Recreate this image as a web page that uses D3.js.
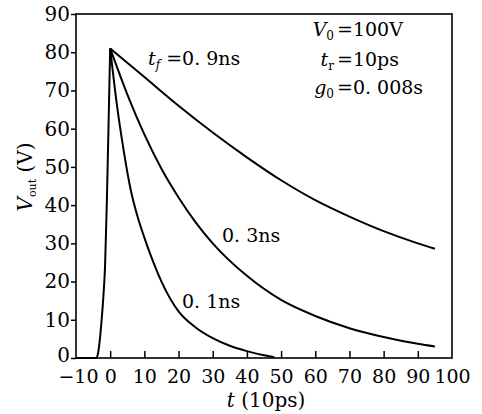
<!DOCTYPE html>
<html>
<head>
<meta charset="utf-8">
<script src="https://cdn.jsdelivr.net/npm/d3@7"></script>
<style>
  body { margin: 0; background: #fff; }
  svg { display: block; }
</style>
</head>
<body>
<svg id="svg1" width="482" height="414"></svg>
<script>
// values, t in units of 10ps, V in volts
const riseT = [-10, -4, -3.5, -3, -2.5, -2, -1.5, -1, -0.5, 0];
const riseV = [0, 0, 1.5, 5, 10, 16, 24, 40, 60, 81];

const decayT09 = [0, 10, 20, 30, 40, 50, 60, 70, 80, 90, 95];
const decayV09 = [81, 73.5, 66, 59, 52.5, 46.5, 41.3, 37, 33.2, 30, 28.6];

const decayT03 = [0, 5, 10, 15, 20, 25, 30, 40, 50, 60, 70, 80, 90, 95];
const decayV03 = [81, 69, 58.5, 49.5, 42, 35.5, 30, 21.5, 15.2, 11, 7.8, 5.5, 3.7, 3];

const decayT01 = [0, 2, 4, 6, 8, 10, 12, 15, 20, 25, 30, 35, 40, 45, 48];
const decayV01 = [81, 66, 54, 44, 37, 31.5, 26.5, 20, 12.2, 8, 5.2, 3.2, 1.8, 0.7, 0.2];

const xTicks = [-10, 0, 10, 20, 30, 40, 50, 60, 70, 80, 90, 100];
const yTicks = [0, 10, 20, 30, 40, 50, 60, 70, 80, 90];

const width = 482;
const height = 414;
const svg = d3.select("#svg1");
const font = "'DejaVu Serif', serif";

const x = d3.scaleLinear().domain([-10, 100]).range([76, 452]);
const y = d3.scaleLinear().domain([0, 90]).range([358, 14]);

const rise = riseT.map((t, i) => [t, riseV[i]]);
const decays = [
  [decayT09, decayV09],
  [decayT03, decayV03],
  [decayT01, decayV01]
].map(([ts, vs]) => ts.map((t, i) => [t, vs[i]]));

// frame
svg.append("rect")
  .attr("x", x(-10)).attr("y", y(90))
  .attr("width", x(100) - x(-10)).attr("height", y(0) - y(90))
  .attr("fill", "none").attr("stroke", "#000").attr("stroke-width", 1.6);

// axes
const xAxis = svg.append("g")
  .attr("transform", `translate(0,${y(0)})`)
  .call(d3.axisBottom(x).tickValues(xTicks).tickSize(-7).tickPadding(12)
    .tickFormat(d => d < 0 ? "\u2212" + Math.abs(d) : d));
xAxis.select(".domain").remove();
xAxis.selectAll(".tick line").attr("stroke-width", 1.5)
  .filter(d => d === -10 || d === 100).remove();
xAxis.selectAll("text").attr("font-family", font).attr("font-size", 19).attr("fill", "#000")
  .filter(d => d === -10).attr("dx", 2);

const yAxis = svg.append("g")
  .attr("transform", `translate(${x(-10)},0)`)
  .call(d3.axisLeft(y).tickValues(yTicks).tickSize(5).tickPadding(1));
yAxis.select(".domain").remove();
yAxis.selectAll(".tick line").attr("stroke-width", 1.5);
yAxis.selectAll("text").attr("font-family", font).attr("font-size", 20).attr("fill", "#000")
  .filter(d => d === 0).attr("dy", "0.18em");

// curves
const line = d3.line()
  .x(d => x(d[0]))
  .y(d => y(d[1]))
  .curve(d3.curveMonotoneX);

const curves = svg.append("g")
  .attr("fill", "none")
  .attr("stroke", "#000")
  .attr("stroke-width", 2)
  .attr("stroke-linejoin", "round");

curves.append("path").attr("d", line(rise));
curves.selectAll(".decay")
  .data(decays)
  .join("path")
  .attr("class", "decay")
  .attr("d", line);

// axis titles
const xt = svg.append("text")
  .attr("x", 266).attr("y", 407)
  .attr("text-anchor", "middle")
  .attr("font-family", font).attr("font-size", 20);
xt.append("tspan").attr("font-style", "italic").text("t");
xt.append("tspan").text(" (10ps)");

const yt = svg.append("text")
  .attr("transform", "translate(32,177) rotate(-90)")
  .attr("text-anchor", "middle")
  .attr("font-family", font).attr("font-size", 20);
yt.append("tspan").attr("font-style", "italic").text("V");
yt.append("tspan").attr("font-size", 11).attr("dy", 4).text("out");
yt.append("tspan").attr("dy", -4).text(" (V)");

// annotations
const tf = svg.append("text")
  .attr("x", 148).attr("y", 65)
  .attr("font-family", font).attr("font-size", 19);
tf.append("tspan").attr("font-style", "italic").text("t");
tf.append("tspan").attr("font-style", "italic").attr("font-size", 12).attr("dy", 4).text("f");
tf.append("tspan").attr("dy", -4).text(" =0. 9ns");

const params = [
  ["V", "0", "=100V", 36],
  ["t", "r", "=10ps", 66],
  ["g", "0", "=0. 008s", 94]
];
params.forEach(([sym, sub, rest, yy]) => {
  const lt = svg.append("text")
    .attr("x", 334).attr("y", yy)
    .attr("text-anchor", "end")
    .attr("font-family", font).attr("font-size", 19);
  lt.append("tspan").attr("font-style", "italic").text(sym);
  lt.append("tspan").attr("font-size", 12).attr("dy", 4).text(sub);
  svg.append("text")
    .attr("x", 337).attr("y", yy)
    .attr("font-family", font).attr("font-size", 19)
    .text(rest);
});

svg.append("text")
  .attr("x", 222).attr("y", 242)
  .attr("font-family", font).attr("font-size", 19)
  .text("0. 3ns");

svg.append("text")
  .attr("x", 182).attr("y", 308)
  .attr("font-family", font).attr("font-size", 19)
  .text("0. 1ns");
</script>
</body>
</html>
